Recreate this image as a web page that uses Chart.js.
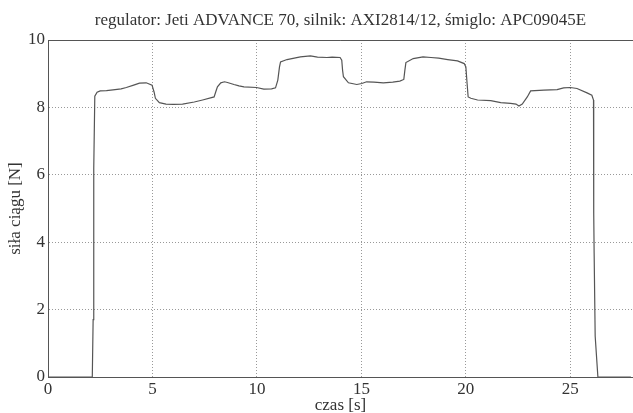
<!DOCTYPE html>
<html>
<head>
<meta charset="utf-8">
<script src="https://cdn.jsdelivr.net/npm/chart.js@4/dist/chart.umd.min.js"></script>
<style>
  html, body { margin: 0; padding: 0; background: #fff; }
  #wrap { width: 633px; height: 413px; }
</style>
</head>
<body>
<div id="wrap"><canvas id="thrustChart"></canvas></div>
<script>
// pomiar siły ciągu w czasie
const timeS = [
    0, 2.12, 2.16, 2.19, 2.24, 2.35, 2.50, 2.80, 3.11, 3.50, 3.75, 4.10, 4.38, 4.70, 4.98,
    5.08, 5.14, 5.33, 5.65, 6.00, 6.44, 7.00, 7.40, 7.95, 8.05, 8.11, 8.27, 8.45, 8.59,
    8.90, 9.14, 9.38, 9.98, 10.33, 10.70, 10.89, 11.00, 11.08, 11.13, 11.44, 12.08,
    12.56, 12.90, 13.35, 13.60, 13.98, 14.06, 14.10, 14.14, 14.38, 14.78, 15.02, 15.25,
    15.60, 16.05, 16.50, 16.84, 17.03, 17.08, 17.13, 17.48, 17.95, 18.33, 18.70, 19.13,
    19.60, 19.92, 20.00, 20.06, 20.11, 20.24, 20.56, 21.19, 21.67, 22.14, 22.40, 22.54,
    22.70, 22.94, 23.10, 23.73, 24.37, 24.68, 25.00, 25.32, 25.80, 26.03, 26.11, 26.12,
    26.14, 26.19, 26.32, 27.90
];
const thrustN = [
    0, 0, 1.70, 6.20, 8.33, 8.45, 8.49, 8.50, 8.52, 8.55, 8.59, 8.66, 8.72, 8.73, 8.66,
    8.45, 8.27, 8.14, 8.10, 8.09, 8.10, 8.16, 8.22, 8.31, 8.50, 8.61, 8.73, 8.76, 8.74,
    8.68, 8.64, 8.61, 8.59, 8.54, 8.55, 8.58, 8.81, 9.20, 9.35, 9.42, 9.50,
    9.53, 9.49, 9.48, 9.49, 9.48, 9.40, 9.10, 8.91, 8.73, 8.68, 8.71, 8.76,
    8.75, 8.73, 8.75, 8.78, 8.83, 9.10, 9.33, 9.45, 9.50, 9.48, 9.46, 9.42,
    9.38, 9.30, 9.20, 8.70, 8.31, 8.27, 8.22, 8.20, 8.14, 8.12, 8.10, 8.04,
    8.10, 8.31, 8.49, 8.51, 8.53, 8.58, 8.59, 8.56, 8.43, 8.36, 8.22, 4.87,
    3.68, 1.21, 0, 0
];

const xRange = [0, 28];
const yRange = [0, 10];
const xStep = 5;
const yStep = 2;

const titleText = 'regulator: Jeti ADVANCE 70, silnik: AXI2814/12, śmiglo: APC09045E';
const xTitle = 'czas [s]';
const yTitle = 'siła ciągu [N]';

const serif = 'Liberation Serif';
const textColor = '#333';
const frameColor = '#555';
const gridColor = '#999';

const points = timeS.map((t, i) => ({ x: t, y: thrustN[i] }));

// górna krawędź ramki wykresu
const frame = {
    id: 'frame',
    afterDraw(chart) {
        const { ctx, chartArea: a } = chart;
        ctx.save();
        ctx.strokeStyle = frameColor;
        ctx.lineWidth = 1;
        ctx.beginPath();
        ctx.moveTo(a.left, a.top + 0.5);
        ctx.lineTo(a.right, a.top + 0.5);
        ctx.stroke();
        ctx.restore();
    }
};

new Chart(document.getElementById('thrustChart').getContext('2d'), {
    type: 'line',
    data: {
        datasets: [{
            data: points,
            borderColor: '#555',
            borderWidth: 1.2,
            pointRadius: 0,
            tension: 0,
            fill: false
        }]
    },
    plugins: [frame],
    options: {
        responsive: true,
        maintainAspectRatio: false,
        animation: false,
        layout: { padding: 0 },
        plugins: {
            legend: { display: false },
            tooltip: { enabled: false },
            title: {
                display: true,
                fullSize: false,
                text: titleText,
                color: textColor,
                font: { family: serif, size: 17, weight: 'normal', lineHeight: 1 },
                padding: { top: 12.5, bottom: 10.5 }
            }
        },
        scales: {
            x: {
                type: 'linear',
                min: xRange[0],
                max: xRange[1],
                afterBuildTicks: s => { s.ticks = s.ticks.filter(t => t.value % xStep === 0); },
                afterFit: s => { s.height = 36; },
                ticks: {
                    stepSize: xStep,
                    padding: 4.5,
                    maxRotation: 0,
                    color: textColor,
                    font: { family: serif, size: 17, lineHeight: 1 }
                },
                grid: { color: gridColor, lineWidth: 1, drawTicks: false },
                border: { color: frameColor, width: 1, dash: [1, 2] },
                title: {
                    display: true,
                    text: xTitle,
                    color: textColor,
                    font: { family: serif, size: 17, lineHeight: 1 },
                    padding: { top: 0, bottom: -1 }
                }
            },
            y: {
                type: 'linear',
                min: yRange[0],
                max: yRange[1],
                afterFit: s => { s.width = 48; },
                ticks: {
                    stepSize: yStep,
                    padding: 3,
                    color: textColor,
                    font: { family: serif, size: 17, lineHeight: 1 }
                },
                grid: { color: gridColor, lineWidth: 1, drawTicks: false },
                border: { color: frameColor, width: 1, dash: [1, 2] },
                title: {
                    display: true,
                    text: yTitle,
                    color: textColor,
                    font: { family: serif, size: 17, lineHeight: 1 },
                    padding: { top: 7.5, bottom: 0 }
                }
            }
        }
    }
});
</script>
</body>
</html>
